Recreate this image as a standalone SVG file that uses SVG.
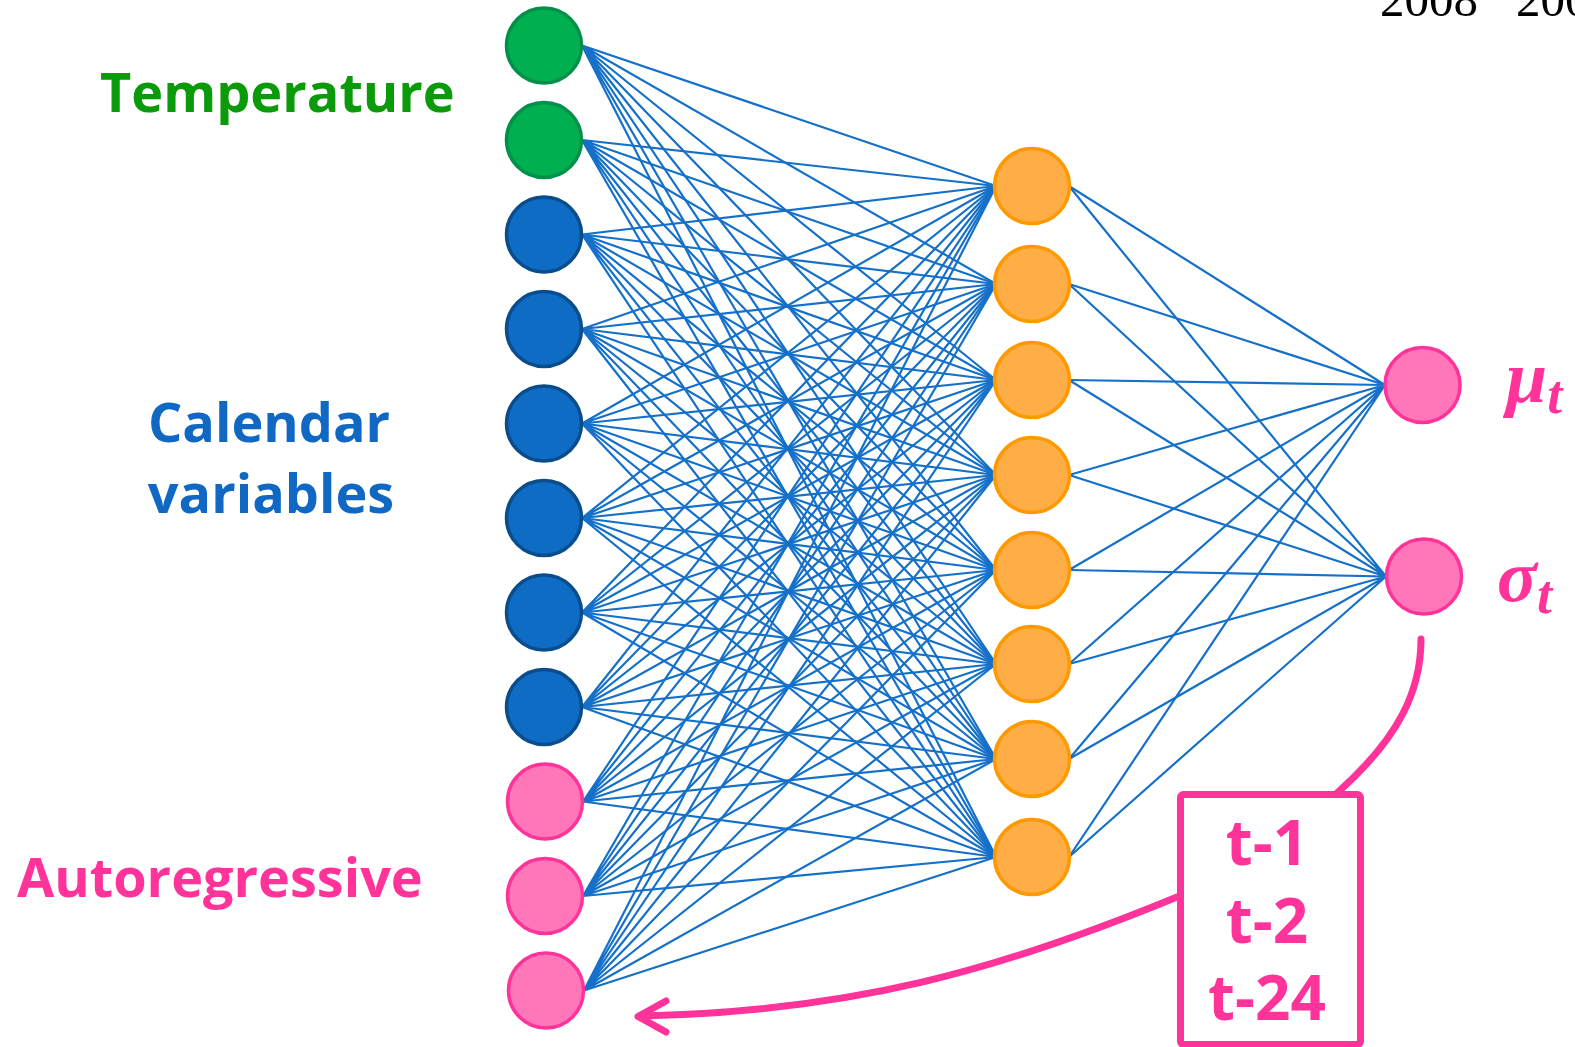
<svg xmlns="http://www.w3.org/2000/svg" width="1575" height="1047" viewBox="0 0 1575 1047">
<style>
.ln{stroke:#1570C9;stroke-width:2.2;fill:none}
.g{fill:#00B050;stroke:#00904A;stroke-width:3.5}
.b{fill:#0F6CC4;stroke:#0A4D8C;stroke-width:3.5}
.p{fill:#FF77B9;stroke:#FF3399;stroke-width:3.5}
.o{fill:#FFAD47;stroke:#FF9900;stroke-width:3.5}
.lbl{font-family:"Open Sans","DejaVu Sans",sans-serif;font-weight:700;font-size:54px}
.math{font-family:"Liberation Serif","DejaVu Serif",serif;font-weight:bold;font-style:italic;fill:#FF3399}
.box{font-family:"Open Sans","DejaVu Sans",sans-serif;font-weight:700;font-size:62px;fill:#FF3399;text-anchor:middle}
.pk{stroke:#FF3399;stroke-width:7;fill:none;stroke-linecap:round;stroke-linejoin:round}
</style>
<rect width="1575" height="1047" fill="#FFFFFF"/>
<g id="year-labels" font-family="Liberation Serif, serif" font-size="49" fill="#000">
<text x="1380" y="16">2008</text>
<text x="1516" y="16">200</text>
</g>
<g id="connectors">
<path class="ln" d="M582,45.5L996,186M582,45.5L996,284M582,45.5L996,380M582,45.5L996,475M582,45.5L996,570M582,45.5L996,664M582,45.5L996,759M582,45.5L996,857"/>
<path class="ln" d="M582,140L996,186M582,140L996,284M582,140L996,380M582,140L996,475M582,140L996,570M582,140L996,664M582,140L996,759M582,140L996,857"/>
<path class="ln" d="M582,234.5L996,186M582,234.5L996,284M582,234.5L996,380M582,234.5L996,475M582,234.5L996,570M582,234.5L996,664M582,234.5L996,759M582,234.5L996,857"/>
<path class="ln" d="M582,329L996,186M582,329L996,284M582,329L996,380M582,329L996,475M582,329L996,570M582,329L996,664M582,329L996,759M582,329L996,857"/>
<path class="ln" d="M582,423.5L996,186M582,423.5L996,284M582,423.5L996,380M582,423.5L996,475M582,423.5L996,570M582,423.5L996,664M582,423.5L996,759M582,423.5L996,857"/>
<path class="ln" d="M582,518L996,186M582,518L996,284M582,518L996,380M582,518L996,475M582,518L996,570M582,518L996,664M582,518L996,759M582,518L996,857"/>
<path class="ln" d="M582,612.5L996,186M582,612.5L996,284M582,612.5L996,380M582,612.5L996,475M582,612.5L996,570M582,612.5L996,664M582,612.5L996,759M582,612.5L996,857"/>
<path class="ln" d="M582,707L996,186M582,707L996,284M582,707L996,380M582,707L996,475M582,707L996,570M582,707L996,664M582,707L996,759M582,707L996,857"/>
<path class="ln" d="M583,801.5L996,186M583,801.5L996,284M583,801.5L996,380M583,801.5L996,475M583,801.5L996,570M583,801.5L996,664M583,801.5L996,759M583,801.5L996,857"/>
<path class="ln" d="M583,896L996,186M583,896L996,284M583,896L996,380M583,896L996,475M583,896L996,570M583,896L996,664M583,896L996,759M583,896L996,857"/>
<path class="ln" d="M584,990.5L996,186M584,990.5L996,284M584,990.5L996,380M584,990.5L996,475M584,990.5L996,570M584,990.5L996,664M584,990.5L996,759M584,990.5L996,857"/>
<path class="ln" d="M1069,186L1385,385M1069,284L1385,385M1069,380L1385,385M1069,475L1385,385M1069,570L1385,385M1069,664L1385,385M1069,759L1385,385M1069,857L1385,385"/>
<path class="ln" d="M1069,186L1386,576.5M1069,284L1386,576.5M1069,380L1386,576.5M1069,475L1386,576.5M1069,570L1386,576.5M1069,664L1386,576.5M1069,759L1386,576.5M1069,857L1386,576.5"/>
<path id="feedback-up" class="pk" d="M1421,639C1421,690 1400,737 1337,793"/>
<path id="feedback-arrow" class="pk" d="M1177,897C1000,970 850,1012 640,1016"/>
<path class="pk" d="M666,1001L638,1016.5L666,1032"/>
</g>
<g id="in1"><circle class="g" cx="544" cy="45.5" r="37.5"/></g>
<g id="in2"><circle class="g" cx="544" cy="140" r="37.5"/></g>
<g id="in3"><circle class="b" cx="544" cy="234.5" r="37.5"/></g>
<g id="in4"><circle class="b" cx="544" cy="329" r="37.5"/></g>
<g id="in5"><circle class="b" cx="544" cy="423.5" r="37.5"/></g>
<g id="in6"><circle class="b" cx="544" cy="518" r="37.5"/></g>
<g id="in7"><circle class="b" cx="544" cy="612.5" r="37.5"/></g>
<g id="in8"><circle class="b" cx="544" cy="707" r="37.5"/></g>
<g id="in9"><circle class="p" cx="545" cy="801.5" r="37.5"/></g>
<g id="in10"><circle class="p" cx="545" cy="896" r="37.5"/></g>
<g id="in11"><circle class="p" cx="546" cy="990.5" r="37.5"/></g>
<g id="h1"><circle class="o" cx="1032" cy="186" r="37.5"/></g>
<g id="h2"><circle class="o" cx="1032" cy="284" r="37.5"/></g>
<g id="h3"><circle class="o" cx="1032" cy="380" r="37.5"/></g>
<g id="h4"><circle class="o" cx="1032" cy="475" r="37.5"/></g>
<g id="h5"><circle class="o" cx="1032" cy="570" r="37.5"/></g>
<g id="h6"><circle class="o" cx="1032" cy="664" r="37.5"/></g>
<g id="h7"><circle class="o" cx="1032" cy="759" r="37.5"/></g>
<g id="h8"><circle class="o" cx="1032" cy="857" r="37.5"/></g>
<g id="out-mu"><circle class="p" cx="1422.5" cy="385" r="37.5"/>
<text class="math" x="1506" y="402" font-size="74">μ<tspan font-size="54" dy="11">t</tspan></text></g>
<g id="out-sigma"><circle class="p" cx="1424" cy="576.5" r="37.5"/>
<text class="math" x="1497" y="601" font-size="74">σ<tspan font-size="54" dy="12">t</tspan></text></g>
<g id="label-temperature"><text class="lbl" x="100" y="112" fill="#0A9A0A">Temperature</text></g>
<g id="label-calendar"><text class="lbl" x="269" y="442" fill="#1068C2" text-anchor="middle">Calendar</text>
<text class="lbl" x="271" y="513" fill="#1068C2" text-anchor="middle">variables</text></g>
<g id="label-autoregressive"><text class="lbl" x="17" y="897" fill="#FF3399">Autoregressive</text></g>
<g id="lag-box"><rect x="1180.5" y="794.5" width="180" height="250" rx="3" fill="#FFFFFF" stroke="#FF3399" stroke-width="7"/>
<text class="box" x="1267" y="865">t-1</text>
<text class="box" x="1267" y="943">t-2</text>
<text class="box" x="1267" y="1020">t-24</text></g>
</svg>
